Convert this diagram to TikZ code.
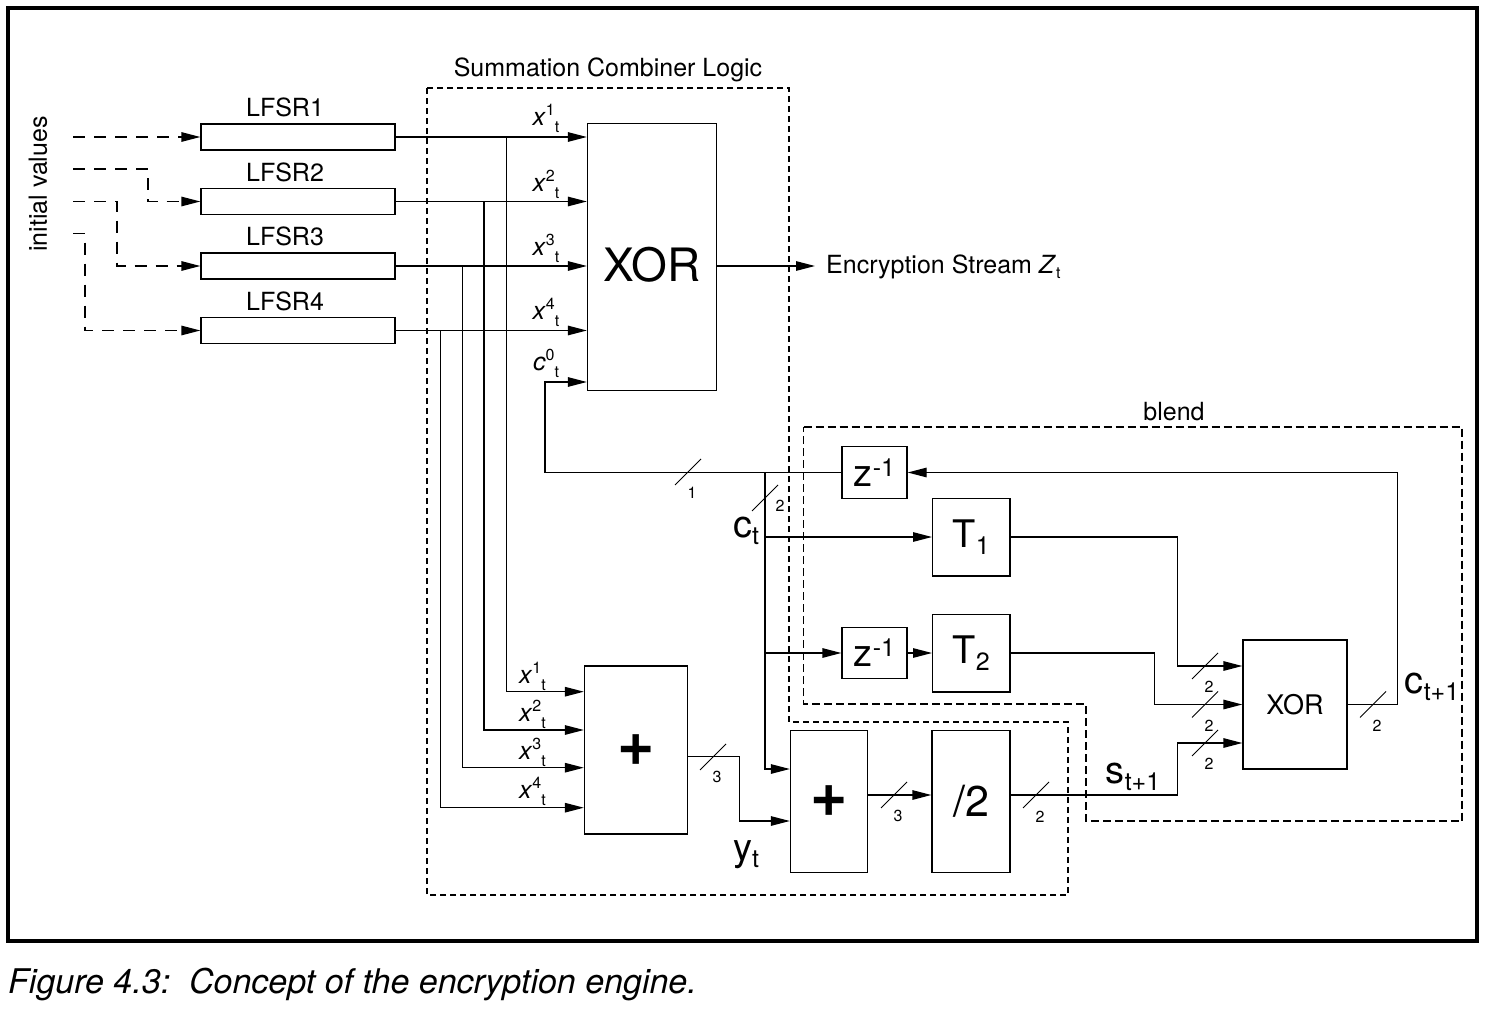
\documentclass[tikz,border=0pt]{standalone}
\usepackage{fontspec}
\setmainfont{TeX Gyre Heros}
\usetikzlibrary{arrows.meta,calc,positioning}

\begin{document}
\begin{tikzpicture}[x=1pt,y=-1pt,
    wire/.style={line width=1.3pt},
    arr/.style={wire,-{Triangle[length=19pt,width=9.5pt]}},
    initarr/.style={arr,dash pattern=on 12pt off 9pt},
    reg/.style={draw,line width=1.3pt,minimum width=194pt,minimum height=26pt,inner sep=0},
    blk/.style={draw,line width=1.3pt,inner sep=0},
    group/.style={draw,line width=1.2pt,dash pattern=on 6pt off 4pt},
    lbl/.style={font=\lblfont,inner sep=0},
    sym/.style={font=\symfont,inner sep=0}]
    \providecommand{\lblfont}{\fontsize{25}{30}\selectfont}
    \providecommand{\symfont}{\fontsize{38}{44}\selectfont}
    \providecommand{\busfont}{\fontsize{16}{18}\selectfont}
    \providecommand{\xorfont}{\fontsize{46}{52}\selectfont}
    \providecommand{\smallxorfont}{\fontsize{27}{32}\selectfont}
    \providecommand{\plusfont}{\fontsize{64}{70}\selectfont\bfseries}
    \providecommand{\divfont}{\fontsize{43}{48}\selectfont}
    \providecommand{\capfont}{\fontsize{34}{38}\selectfont\itshape}
    \providecommand{\supsub}[3]{#1\raisebox{10pt}{\fontsize{16}{18}\selectfont#2}\raisebox{-7pt}{\fontsize{16}{18}\selectfont#3}}
    \providecommand{\bigsup}[2]{#1\raisebox{10pt}{\fontsize{25}{30}\selectfont#2}}
    \providecommand{\bigsub}[2]{#1\raisebox{-7pt}{\fontsize{25}{30}\selectfont#2}}
    \providecommand{\busmark}[4]{%
        \draw[line width=1pt] ($(#2)+(-13,13)$) -- ($(#2)+(13,-13)$);
        \node[font=\busfont,inner sep=0] (#1) at ($(#2)+#4$) {#3};}
    \useasboundingbox (0,0) rectangle (1494,1014);
    \draw[line width=3.3pt] (8,8) rectangle (1477,941);

    % shift registers and their start values
    \node[lbl,rotate=90] (initval) at (38,184) {initial values};
    \foreach \i/\y in {1/137,2/201.5,3/266,4/330.5}{
        \node[reg] (lfsr\i) at (298,\y) {};
        \node[lbl,above=6pt of lfsr\i,xshift=-13pt] (lfsrname\i) {LFSR\i};
    }
    \coordinate (iv1) at (73,137);
    \coordinate (iv2) at (73,169);
    \coordinate (iv3) at (73,201.5);
    \coordinate (iv4) at (73,233.7);
    \draw[initarr] (iv1) -- (lfsr1.west);
    \draw[initarr] (iv2) -- ++(75,0) |- (lfsr2.west);
    \draw[initarr] (iv3) -- ++(44,0) |- (lfsr3.west);
    \draw[initarr] (iv4) -- ++(12,0) |- (lfsr4.west);

    % summation combiner logic
    \draw[group] (427,88) -- (789,88) -- (789,722) -- (1068,722) -- (1068,895) -- (427,895) -- cycle;
    \node[lbl] (sumname) at (608,70) {Summation Combiner Logic};
    \node[blk,minimum width=129pt,minimum height=267pt] (xor) at (652,257) {};
    \node[font=\xorfont,inner sep=0] (xorname) at (652,265) {XOR};
    \foreach \i/\y in {1/118,2/184,3/248,4/312}{
        \draw[arr] (lfsr\i.east) -- (lfsr\i.east -| xor.west);
        \node[lbl] (xin\i) at (546,\y) {\supsub{\textit{x}}{\i}{t}};
    }
    \node[lbl] (cin) at (546,363) {\supsub{\textit{c}}{0}{t}};
    \node[lbl,anchor=west,inner xsep=11pt] (enc) at (815,267) {Encryption Stream \textit{Z}\raisebox{-5pt}{\fontsize{16}{18}\selectfont t}};
    \draw[arr] (xor.east |- lfsr3) -- (enc.west |- lfsr3);

    \node[blk,minimum width=103pt,minimum height=168pt,font=\plusfont] (add1) at (636,750) {+};
    \foreach \i/\x/\ty/\y/\ly in {1/506.5/137/691.7/676,2/484/201.5/730/714.4,3/462.5/266/767.7/752.7,4/440.6/330.5/807.7/791}{
        \coordinate (tap\i) at (\x,\ty);
        \coordinate (lev\i) at (0,\y);
        \draw[arr] (tap\i) |- (add1.west |- lev\i);
        \node[lbl] (ain\i) at (532.5,\ly) {\supsub{\textit{x}}{\i}{t}};
    }
    \node[blk,minimum width=77pt,minimum height=141.6pt,font=\plusfont] (add2) at (829,801.5) {+};
    \node[blk,minimum width=78pt,minimum height=141.6pt,font=\divfont] (div) at (971,801.5) {/2};
    \node[sym] (yt) at (746,855) {\bigsub{y}{t}};

    % blend
    \draw[group,dash pattern=on 8pt off 4pt] (803.5,427) -- (1462,427) -- (1462,821) -- (1086,821) -- (1086,704) -- (803.5,704) -- cycle;
    \node[lbl] (blendname) at (1174,412) {blend};
    \node[blk,minimum width=65pt,minimum height=51.6pt,font=\symfont] (za) at (874.5,472.5) {\bigsup{z}{-1}};
    \node[blk,minimum width=65pt,minimum height=51.6pt,font=\symfont] (zb) at (874.5,653) {\bigsup{z}{-1}};
    \node[blk,minimum width=77.3pt,minimum height=77.7pt,font=\symfont] (t1) at (971.3,537) {\bigsub{T}{1}};
    \node[blk,minimum width=77.3pt,minimum height=77.7pt,font=\symfont] (t2) at (971.3,653) {\bigsub{T}{2}};
    \node[blk,minimum width=104pt,minimum height=129pt,font=\smallxorfont] (xor2) at (1295,704.5) {XOR};

    % carry path
    \coordinate (ct) at (765,472);
    \draw[arr] (za.west) -- ++(-296.3,0) |- ([yshift=-125pt]xor.west);
    \draw[arr] (ct) |- ([yshift=32.5pt]add2.west);
    \draw[arr] (ct |- t1.west) -- (t1.west);
    \draw[arr] (ct |- zb.west) -- (zb.west);
    \draw[arr] (zb) -- (t2);
    \draw[arr] ([yshift=-6.7pt]add1.east) -- ++(51.3,0) |- ([yshift=-19.5pt]add2.west);
    \draw[arr] ([yshift=6.5pt]add2.east) -- ([yshift=6.5pt]div.west);
    \draw[arr] ([yshift=6.5pt]div.east) -- ++(167,0) |- ([yshift=-38.5pt]xor2.west);
    \draw[arr] (t1.east) -- ++(167,0) |- ([yshift=38.5pt]xor2.west);
    \draw[arr] (t2.east) -- ++(144,0) |- (xor2.west);
    \draw[arr] (xor2.east) -- ++(50,0) |- (za.east);
    \node[sym] (ctname) at (746,531) {\bigsub{c}{t}};
    \node[sym] (snext) at (1133,777) {\bigsub{s}{t+1}};
    \node[sym] (cnext) at (1432,687) {\bigsub{c}{t+1}};

    % bus widths
    \busmark{bw1}{688,472}{1}{(4,21)}
    \busmark{bw2}{765,498}{2}{(15,8)}
    \busmark{bw3}{713,757}{3}{(4,20)}
    \busmark{bw4}{894,795}{3}{(4,21)}
    \busmark{bw5}{1036,795}{2}{(4,22)}
    \busmark{bw6}{1205,666}{2}{(4,21)}
    \busmark{bw7}{1205,704.5}{2}{(4,21)}
    \busmark{bw8}{1205,743}{2}{(4,21)}
    \busmark{bw9}{1373,704.5}{2}{(4,21)}

    \node[font=\capfont,anchor=base west,inner sep=0] (caption) at (8,993) {Figure 4.3:\ \ Concept of the encryption engine.};
\end{tikzpicture}
\end{document}
